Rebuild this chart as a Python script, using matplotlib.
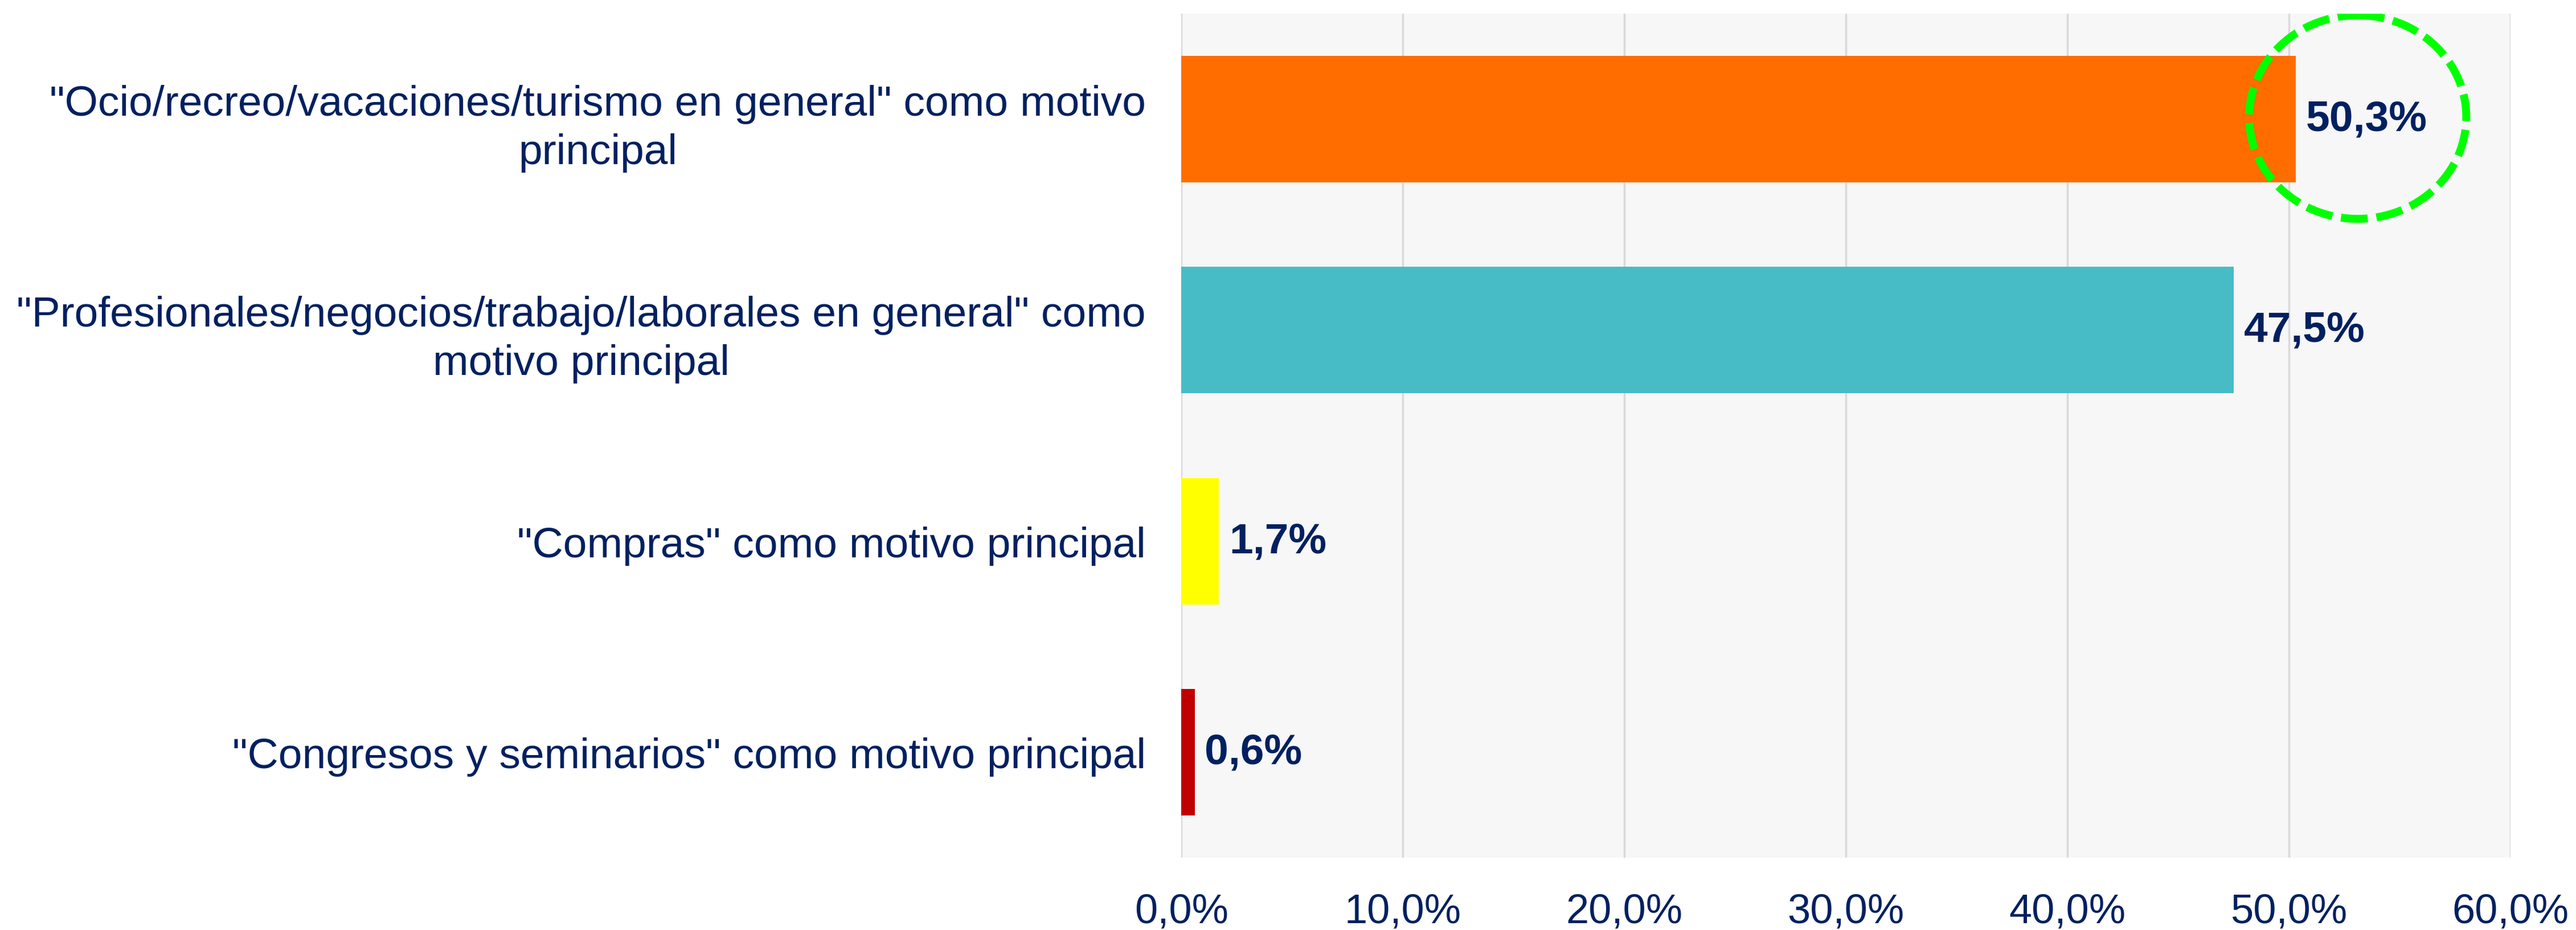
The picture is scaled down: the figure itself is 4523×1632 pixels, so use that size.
import matplotlib as mpl
mpl.use("Agg")
import matplotlib.pyplot as plt
from matplotlib.patches import Ellipse
from matplotlib.ticker import FuncFormatter, MultipleLocator

categories = [
    '"Ocio/recreo/vacaciones/turismo en general" como motivo\nprincipal',
    '"Profesionales/negocios/trabajo/laborales en general" como\nmotivo principal',
    '"Compras" como motivo principal',
    '"Congresos y seminarios" como motivo principal',
]
values = [50.3, 47.5, 1.7, 0.6]
colors = ["#ff6d00", "#48bcc6", "#ffff00", "#c00000"]

navy = "#002060"
plt.rcParams['font.family'] = ['Liberation Sans', 'DejaVu Sans']

fig = plt.figure(figsize=(45.23, 16.33), dpi=100)
ax = fig.add_axes([0.4586, 0.0778, 0.5160, 0.9069])
ax.set_facecolor("#f7f7f7")

y = list(range(len(values)))
ax.barh(y, values, height=0.6, color=colors, zorder=3)

for yi, v in zip(y, values):
    ax.text(v + 0.45, yi, f"{v:.1f}%".replace(".", ","), ha="left", va="center",
            fontsize=54, fontweight="bold", color=navy, zorder=5)

# highlight circle on the top bar value
ax.add_patch(Ellipse((53.1, -0.01), 9.8, 0.965, fill=False, edgecolor="#00ff00",
                     linewidth=10, linestyle=(0, (3.4, 1.1)), zorder=4))

ax.set_xlim(0, 60)
ax.set_ylim(3.5, -0.5)
ax.xaxis.set_major_locator(MultipleLocator(10))
ax.xaxis.set_major_formatter(FuncFormatter(lambda x, p: f"{x:.1f}%".replace(".", ",")))
ax.grid(axis="x", color="#d9d9d9", linewidth=2.5, zorder=1)

ax.set_yticks(y)
ax.set_yticklabels(categories, multialignment="center", linespacing=1.3)
ax.tick_params(axis="y", length=0, pad=45, labelsize=54, labelcolor=navy)
ax.tick_params(axis="x", length=0, pad=44, labelsize=52, labelcolor=navy)

for s in ax.spines.values():
    s.set_visible(False)

fig.savefig("out.png", dpi=100, facecolor="white")
